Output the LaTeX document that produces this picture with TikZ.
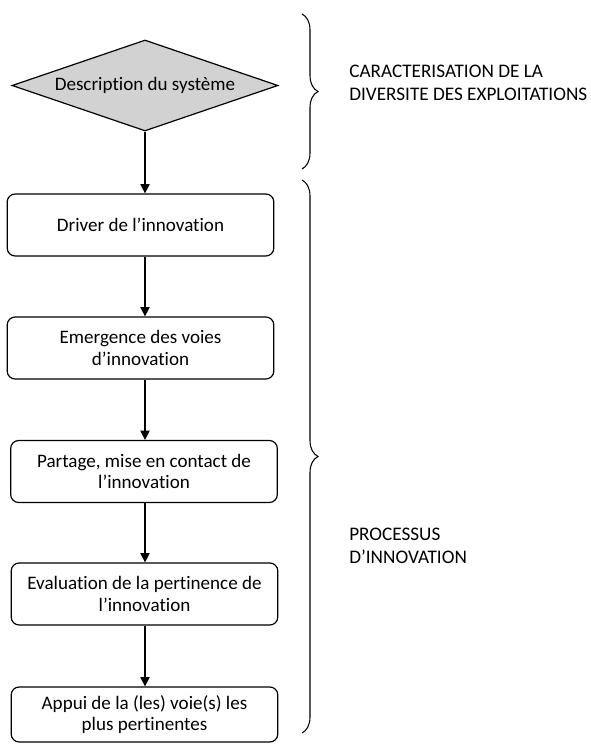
\documentclass[tikz,border=0pt]{standalone}
\usepackage{fontspec}
\setmainfont[Ligatures=NoCommon]{Carlito}
\usetikzlibrary{shapes.geometric,arrows.meta,decorations.pathreplacing}
\definecolor{diagfill}{RGB}{210,210,210}
\tikzset{
  stepbox/.style={draw=black, line width=0.9pt, rounded corners=6pt, fill=white,
    minimum width=200pt, minimum height=46.5pt, align=center, inner sep=0pt,
    font=\fontsize{14.3}{16}\selectfont},
  decision/.style={diamond, draw=black, line width=0.9pt, fill=diagfill,
    minimum width=199.5pt, minimum height=68.25pt, aspect=2.9, inner sep=0pt,
    font=\fontsize{14.3}{16}\selectfont},
  arr/.style={line width=0.9pt, -{Triangle[length=7pt,width=7pt]}},
  curly/.style={line width=0.8pt, decorate, decoration={brace, amplitude=12pt}},
  sidelabel/.style={anchor=west, align=left, inner sep=0pt,
    font=\fontsize{14.4}{17.2}\selectfont}
}
\begin{document}
\begin{tikzpicture}[x=0.75pt,y=-0.75pt]
\useasboundingbox (0,0) rectangle (591,745);
\node[decision] (d) at (145,85.5) {Description du système};
\node[stepbox] (b1) at (140.5,225) {Driver de l’innovation};
\node[stepbox] (b2) at (140.5,348) {Emergence des voies\\d’innovation};
\node[stepbox] (b3) at (144,471.5) {Partage, mise en contact de\\l’innovation};
\node[stepbox] (b4) at (144.5,594) {Evaluation de la pertinence de\\l’innovation};
\node[stepbox, minimum height=41.25pt] (b5) at (144.5,714.5) {Appui de la (les) voie(s) les\\plus pertinentes};
\draw[arr] (d.south) -- (b1.north -| d.south);
\draw[arr] (b1.south -| d.south) -- (b2.north -| d.south);
\draw[arr] (b2.south -| d.south) -- (b3.north -| d.south);
\draw[arr] (b3.south -| d.south) -- (b4.north -| d.south);
\draw[arr] (b4.south -| d.south) -- (b5.north -| d.south);
\coordinate (c1t) at (302,14);
\coordinate (c1b) at (302,169);
\coordinate (c2t) at (302,180);
\coordinate (c2b) at (302,733);
\draw[curly] (c1t) -- (c1b);
\draw[curly] (c2t) -- (c2b);
\node[sidelabel] (l1) at (349,82.5) {CARACTERISATION DE LA\\DIVERSITE DES EXPLOITATIONS};
\node[sidelabel] (l2) at (349,546) {PROCESSUS\\D’INNOVATION};
\end{tikzpicture}
\end{document}
